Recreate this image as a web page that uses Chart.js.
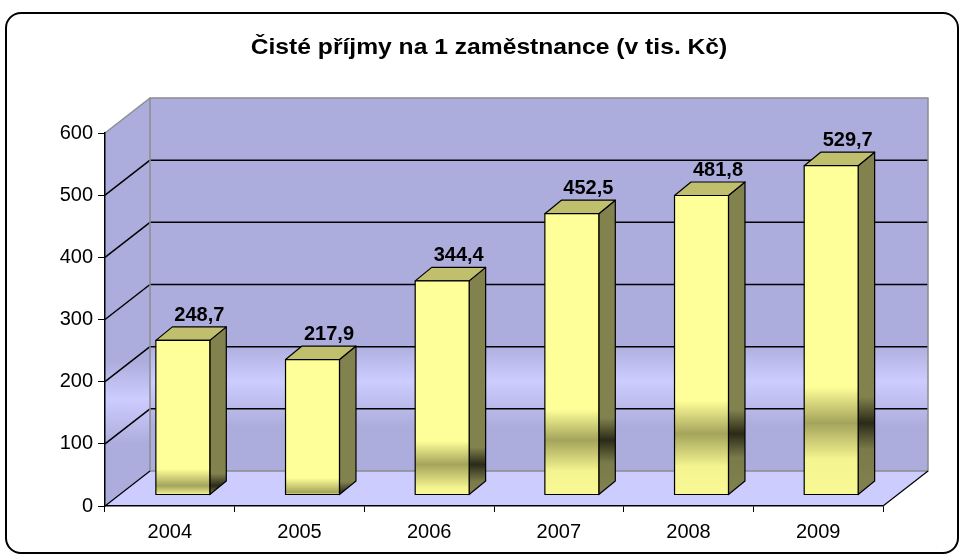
<!DOCTYPE html>
<html lang="cs">
<head>
    <meta charset="UTF-8">
    <title>Čisté příjmy na 1 zaměstnance</title>
    <script src="https://cdn.jsdelivr.net/npm/chart.js"></script>
    <style>
        html, body { margin: 0; padding: 0; background: #fff; }
        canvas { display: block; }
    </style>
</head>
<body>
    <canvas id="incomeChart" width="964" height="560"></canvas>

    <script>
        // data
        const chartTitle = 'Čisté příjmy na 1 zaměstnance (v tis. Kč)';
        const years = ['2004', '2005', '2006', '2007', '2008', '2009'];
        const incomes = [248.7, 217.9, 344.4, 452.5, 481.8, 529.7];
        const yMin = 0;
        const yMax = 600;
        const yStep = 100;

        const tickFont = { family: "'Liberation Sans', Arial, sans-serif", size: 20 };

        // 3D look: wall depth, bar position in depth and bar depth
        const wallDx = 45, wallDy = -35;
        const barShiftX = 13, barShiftY = -11;
        const barDx = 16.5, barDy = -13.5;

        function fmt(v) {
            return v.toFixed(1).replace('.', ',');
        }

        function poly(ctx, pts) {
            ctx.beginPath();
            ctx.moveTo(pts[0][0], pts[0][1]);
            for (let i = 1; i < pts.length; i++) ctx.lineTo(pts[i][0], pts[i][1]);
            ctx.closePath();
        }

        function line(ctx, x0, y0, x1, y1, color, width) {
            ctx.beginPath();
            ctx.moveTo(x0, y0);
            ctx.lineTo(x1, y1);
            ctx.strokeStyle = color;
            ctx.lineWidth = width;
            ctx.stroke();
        }

        function wallGradient(ctx, top, bottom) {
            const g = ctx.createLinearGradient(0, top, 0, bottom);
            g.addColorStop(0, '#ADADDD');
            g.addColorStop(0.66, '#ADADDD');
            g.addColorStop(0.76, '#CCCCFF');
            g.addColorStop(0.88, '#ADADDD');
            g.addColorStop(1, '#ADADDD');
            return g;
        }

        // walls, floor and grid behind everything
        const wallsPlugin = {
            id: 'walls3d',
            beforeDraw(chart) {
                const ctx = chart.ctx;
                const a = chart.chartArea;
                const ys = chart.scales.y;
                const L = a.left, R = a.right;
                const T = ys.getPixelForValue(yMax), B = ys.getPixelForValue(yMin);

                ctx.save();
                // back wall
                ctx.fillStyle = wallGradient(ctx, T + wallDy, B + wallDy);
                ctx.fillRect(L + wallDx, T + wallDy, R - L, B - T);
                // side wall
                poly(ctx, [[L, T], [L + wallDx, T + wallDy], [L + wallDx, B + wallDy], [L, B]]);
                ctx.fillStyle = wallGradient(ctx, T + wallDy / 2, B + wallDy / 2);
                ctx.fill();
                // floor
                poly(ctx, [[L, B], [R, B], [R + wallDx, B + wallDy], [L + wallDx, B + wallDy]]);
                ctx.fillStyle = '#CCCCFF';
                ctx.fill();

                // grid lines
                for (let v = yMin + yStep; v < yMax; v += yStep) {
                    const y = ys.getPixelForValue(v);
                    line(ctx, L, y, L + wallDx, y + wallDy, '#000', 1.5);
                    line(ctx, L + wallDx, y + wallDy, R + wallDx, y + wallDy, '#000', 1.5);
                }

                // edges
                ctx.strokeStyle = '#8C8C8C';
                ctx.lineWidth = 1.5;
                ctx.strokeRect(L + wallDx, T + wallDy, R - L, B - T);
                line(ctx, L, T, L + wallDx, T + wallDy, '#8C8C8C', 1.5);
                line(ctx, L, B, L + wallDx, B + wallDy, '#000', 1.2);
                line(ctx, R, B, R + wallDx, B + wallDy, '#000', 1.2);
                ctx.restore();
            }
        };

        function frontGradient(ctx, top, bottom) {
            const h = bottom - top;
            const d = Math.max(0, (h - 130) * 0.36);
            const w = 0.11 * h;
            const c = (h - d) / h;
            const g = ctx.createLinearGradient(0, top, 0, bottom);
            const s = (p) => Math.min(1, Math.max(0, p));
            g.addColorStop(0, '#FFFF99');
            g.addColorStop(s(c - w / h), '#FFFF99');
            g.addColorStop(s(c), '#A4A45C');
            g.addColorStop(s(c + w / h), '#F4F490');
            g.addColorStop(1, '#F8F894');
            return g;
        }

        function sideGradient(ctx, top, bottom) {
            const h = bottom - top;
            const d = Math.max(0, (h - 130) * 0.36);
            const w = 0.08 * h;
            const c = (h - d) / h;
            const g = ctx.createLinearGradient(0, top, 0, bottom);
            const s = (p) => Math.min(1, Math.max(0, p));
            g.addColorStop(0, '#82824F');
            g.addColorStop(s(c - w / h), '#82824F');
            g.addColorStop(s(c), '#2A2A18');
            g.addColorStop(s(c + w / h), '#7A7A4A');
            g.addColorStop(1, '#82824F');
            return g;
        }

        // 3D bars and value labels
        const barsPlugin = {
            id: 'bars3d',
            afterDatasetsDraw(chart) {
                const ctx = chart.ctx;
                const meta = chart.getDatasetMeta(0);
                ctx.save();
                ctx.lineJoin = 'round';
                meta.data.forEach((el, i) => {
                    const w = el.width;
                    const x0 = el.x - w / 2 + barShiftX, x1 = x0 + w;
                    const yT = el.y + barShiftY, yB = el.base + barShiftY;

                    ctx.strokeStyle = '#000';
                    ctx.lineWidth = 1.2;

                    // side face
                    poly(ctx, [[x1, yT], [x1 + barDx, yT + barDy], [x1 + barDx, yB + barDy], [x1, yB]]);
                    ctx.fillStyle = sideGradient(ctx, yT, yB);
                    ctx.fill();
                    ctx.stroke();

                    // top face
                    poly(ctx, [[x0, yT], [x1, yT], [x1 + barDx, yT + barDy], [x0 + barDx, yT + barDy]]);
                    ctx.fillStyle = '#BFBF6E';
                    ctx.fill();
                    ctx.stroke();

                    // front face
                    ctx.fillStyle = frontGradient(ctx, yT, yB);
                    ctx.fillRect(x0, yT, w, yB - yT);
                    ctx.strokeRect(x0, yT, w, yB - yT);

                    // value label
                    ctx.fillStyle = '#000';
                    ctx.font = "bold 20px 'Liberation Sans', Arial, sans-serif";
                    ctx.textAlign = 'center';
                    ctx.textBaseline = 'alphabetic';
                    ctx.fillText(fmt(incomes[i]), x0 + w / 2 + barDx, yT + barDy - 6);
                });
                ctx.restore();
            },
            afterDraw(chart) {
                const ctx = chart.ctx;
                ctx.save();
                // title
                ctx.fillStyle = '#000';
                ctx.font = "bold 22px 'Liberation Sans', Arial, sans-serif";
                ctx.textAlign = 'center';
                ctx.textBaseline = 'alphabetic';
                ctx.translate(489, 54);
                ctx.scale(1.12, 1);
                ctx.fillText(chartTitle, 0, 0);
                ctx.restore();

                // rounded frame
                ctx.save();
                ctx.beginPath();
                ctx.roundRect(6, 13, 952, 540, 15);
                ctx.strokeStyle = '#000';
                ctx.lineWidth = 2;
                ctx.stroke();
                ctx.restore();
            }
        };

        new Chart(document.getElementById('incomeChart'), {
            type: 'bar',
            data: {
                labels: years,
                datasets: [{
                    label: chartTitle,
                    data: incomes,
                    backgroundColor: 'rgba(0,0,0,0)',
                    borderWidth: 0,
                    barPercentage: 0.416,
                    categoryPercentage: 1
                }]
            },
            options: {
                responsive: false,
                animation: false,
                devicePixelRatio: 1,
                layout: { padding: { top: 133, right: 81, left: 0, bottom: 0 } },
                plugins: {
                    legend: { display: false },
                    tooltip: { enabled: false },
                    title: { display: false }
                },
                scales: {
                    x: {
                        offset: true,
                        grid: { offset: true, drawOnChartArea: false, drawTicks: true, tickLength: 6, color: '#000', lineWidth: 1 },
                        border: { display: true, color: '#000', width: 1.5 },
                        ticks: { font: tickFont, color: '#000', padding: 8, maxRotation: 0 },
                        afterFit(scale) { scale.height = 54; }
                    },
                    y: {
                        min: yMin,
                        max: yMax,
                        ticks: { stepSize: yStep, font: tickFont, color: '#000', padding: 5 },
                        grid: { drawOnChartArea: false, drawTicks: true, tickLength: 7, color: '#000', lineWidth: 1 },
                        border: { display: true, color: '#000', width: 1.5 },
                        afterFit(scale) { scale.width = 105; }
                    }
                }
            },
            plugins: [wallsPlugin, barsPlugin]
        });
    </script>
</body>
</html>
